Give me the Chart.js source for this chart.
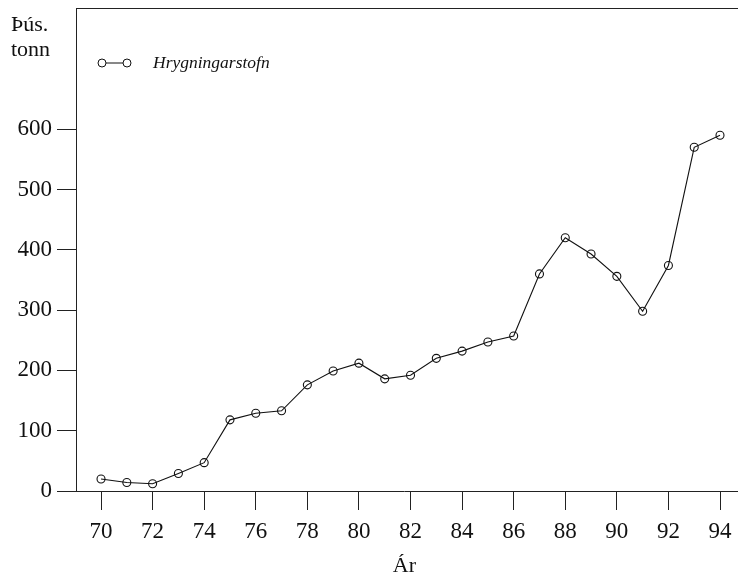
<!DOCTYPE html>
<html>
<head>
<meta charset="utf-8">
<script src="https://cdn.jsdelivr.net/npm/chart.js@4"></script>
<style>
  html, body { margin: 0; padding: 0; background: #fff; }
  #wrap { width: 738px; height: 579px; }
</style>
</head>
<body>
<div id="wrap"><canvas id="c" width="738" height="579"></canvas></div>
<script>
// Hrygningarstofn (þús. tonn) eftir árum
const years = [70,71,72,73,74,75,76,77,78,79,80,81,82,83,84,85,86,87,88,89,90,91,92,93,94];
const spawningStock = [20,14,12,29,47,118,129,133,176,199,212,186,192,220,232,247,257,360,420,393,356,298,374,570,590];
const yTickValues = [0,100,200,300,400,500,600];
const xTickValues = [70,72,74,76,78,80,82,84,86,88,90,92,94];
const seriesName = 'Hrygningarstofn';
const yUnitLines = ['Þús.', 'tonn'];
const xAxisTitle = 'Ár';

const serif = '"Liberation Serif", "DejaVu Serif", serif';

const frame = {
  id: 'frame',
  afterDraw(chart) {
    const { ctx, chartArea } = chart;
    ctx.save();
    // top border of the plot frame, and both frame lines run on to the canvas edge
    ctx.strokeStyle = '#222';
    ctx.lineWidth = 1;
    ctx.beginPath();
    ctx.moveTo(chartArea.left, chartArea.top + 0.5);
    ctx.lineTo(chart.width, chartArea.top + 0.5);
    ctx.moveTo(chartArea.right, chartArea.bottom + 0.5);
    ctx.lineTo(chart.width, chartArea.bottom + 0.5);
    ctx.stroke();

    // unit label above the value axis
    ctx.fillStyle = '#111';
    ctx.font = '22px ' + serif;
    ctx.textAlign = 'left';
    ctx.textBaseline = 'alphabetic';
    ctx.fillText(yUnitLines[0], 11, 31);
    ctx.fillText(yUnitLines[1], 11, 56);

    // legend: marker–line–marker and italic series name
    const ly = 63, lx1 = 102, lx2 = 127;
    ctx.strokeStyle = '#111';
    ctx.beginPath();
    ctx.moveTo(lx1, ly);
    ctx.lineTo(lx2, ly);
    ctx.stroke();
    [lx1, lx2].forEach(x => {
      ctx.beginPath();
      ctx.arc(x, ly, 4, 0, Math.PI * 2);
      ctx.fillStyle = '#fff';
      ctx.fill();
      ctx.stroke();
    });
    ctx.fillStyle = '#111';
    ctx.font = 'italic 17.5px ' + serif;
    ctx.textBaseline = 'middle';
    ctx.fillText(seriesName, 153, ly);
    ctx.restore();
  }
};

new Chart(document.getElementById('c'), {
  type: 'line',
  data: {
    datasets: [{
      label: seriesName,
      data: years.map((y, i) => ({ x: y, y: spawningStock[i] })),
      borderColor: '#111',
      borderWidth: 1.1,
      tension: 0,
      pointRadius: 4,
      pointBorderWidth: 1.1,
      pointBorderColor: '#111',
      pointBackgroundColor: 'rgba(255,255,255,0)'
    }]
  },
  options: {
    responsive: false,
    animation: false,
    layout: { padding: { top: 8, right: 0, left: 0, bottom: 0 } },
    plugins: { legend: { display: false }, tooltip: { enabled: false } },
    scales: {
      x: {
        type: 'linear',
        min: 69.03,
        max: 94.5,
        afterBuildTicks: s => { s.ticks = xTickValues.map(v => ({ value: v })); },
        afterFit: s => { s.height = 88; s.paddingLeft = 0; s.paddingRight = 0; },
        grid: { drawOnChartArea: false, tickLength: 19, color: '#222', tickWidth: 1 },
        border: { color: '#222', width: 1 },
        ticks: { color: '#111', font: { family: serif, size: 23 }, padding: 8, maxRotation: 0 },
        title: { display: true, text: xAxisTitle, color: '#111', font: { family: serif, size: 22 }, padding: { top: 0, bottom: 0 } }
      },
      y: {
        min: 0,
        max: 801,
        afterBuildTicks: s => { s.ticks = yTickValues.map(v => ({ value: v })); },
        afterFit: s => { s.width = 76; s.paddingTop = 0; s.paddingBottom = 0; },
        grid: { drawOnChartArea: false, tickLength: 19, color: '#222', tickWidth: 1 },
        border: { color: '#222', width: 1 },
        ticks: { color: '#111', font: { family: serif, size: 23 }, padding: 5 }
      }
    }
  },
  plugins: [frame]
});
</script>
</body>
</html>
